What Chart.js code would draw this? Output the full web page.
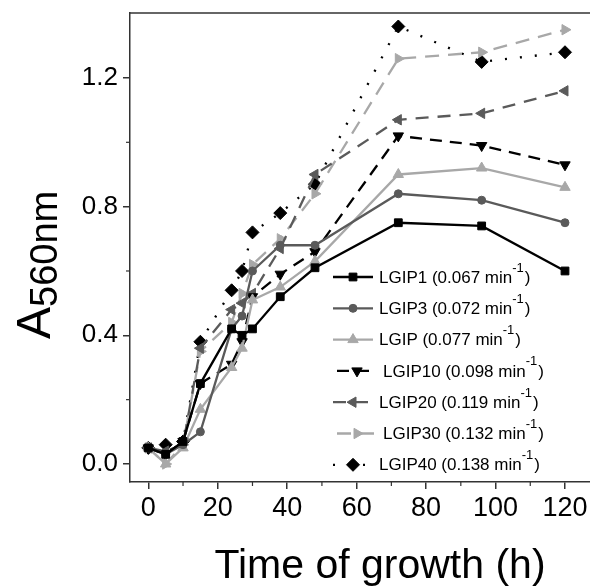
<!DOCTYPE html>
<html>
<head>
<meta charset="utf-8">
<script src="https://cdn.jsdelivr.net/npm/chart.js@4/dist/chart.umd.min.js"></script>
<style>
  html, body { margin: 0; padding: 0; background: #fff; overflow: hidden; }
  #wrap { width: 590px; height: 587px; position: relative; }
  #wrap canvas { display: block; }
</style>
</head>
<body>
<div id="wrap"><canvas id="growthChart"></canvas></div>
<script>
const hours = [0, 5, 10, 15, 24, 27, 30, 38, 48, 72, 96, 120];

const lgip1  = [0.05, 0.03, 0.07, 0.25, 0.42, 0.40, 0.42, 0.52, 0.61, 0.75, 0.74, 0.60];
const lgip3  = [0.05, 0.03, 0.06, 0.10, 0.42, 0.46, 0.60, 0.68, 0.68, 0.84, 0.82, 0.75];
const lgip   = [0.05, 0.00, 0.05, 0.17, 0.30, 0.36, 0.51, 0.55, 0.63, 0.90, 0.92, 0.86];
const lgip10 = [0.05, 0.03, 0.07, 0.25, 0.31, 0.38, 0.52, 0.59, 0.66, 1.02, 0.99, 0.93];
const lgip20 = [0.05, 0.04, 0.06, 0.36, 0.48, 0.50, 0.53, 0.67, 0.90, 1.07, 1.09, 1.16];
const lgip30 = [0.05, 0.00, 0.06, 0.35, 0.44, 0.53, 0.62, 0.70, 0.84, 1.26, 1.28, 1.35];
const lgip40 = [0.05, 0.06, 0.07, 0.38, 0.54, 0.60, 0.72, 0.78, 0.87, 1.36, 1.25, 1.28];

const seriesNames = ["LGIP1", "LGIP3", "LGIP", "LGIP10", "LGIP20", "LGIP30", "LGIP40"];
const rates = ["0.067", "0.072", "0.077", "0.098", "0.119", "0.132", "0.138"];

const xTicks = [0, 20, 40, 60, 80, 100, 120];
const xMinor = [10, 30, 50, 70, 90, 110];
const yTicks = [0.0, 0.4, 0.8, 1.2];
const yMinor = [0.2, 0.6, 1.0];

const FONT = '"Liberation Sans", Arial, sans-serif';
const BLACK = "#000000";
const DARK = "#5a5a5a";
const LIGHT = "#a8a8a8";

function pts(values) {
    return hours.map((h, i) => ({ x: h, y: values[i] }));
}

function series(i, values, color, dash, style, rotation, radius) {
    return {
        label: seriesNames[i],
        data: pts(values),
        borderColor: color,
        backgroundColor: color,
        borderWidth: 2.3,
        borderDash: dash,
        pointStyle: style,
        rotation: rotation,
        pointRadius: radius,
        pointBorderWidth: 1,
        tension: 0,
    };
}

const datasets = [
    series(0, lgip1, BLACK, [], "rect", 0, 5.5),
    series(1, lgip3, DARK, [], "circle", 0, 4),
    series(2, lgip, LIGHT, [], "triangle", 0, 6),
    series(3, lgip10, BLACK, [12, 8], "triangle", 180, 6),
    series(4, lgip20, DARK, [13, 9], "triangle", -90, 6),
    series(5, lgip30, LIGHT, [14, 9], "triangle", 90, 6),
    series(6, lgip40, BLACK, [2, 13], "rectRot", 0, 6.5),
];

// drop the label overflow padding so the plot box keeps its place
function noPad(s) {
    s.paddingTop = 0;
    s.paddingBottom = 0;
    s.paddingLeft = 0;
    s.paddingRight = 0;
}

// frame top line, minor ticks, axis titles and legend
const extras = {
    id: "extras",
    afterDraw(chart) {
        const { ctx, chartArea: a, scales } = chart;
        ctx.save();
        ctx.strokeStyle = "#333";
        ctx.lineWidth = 1.5;
        ctx.beginPath();
        ctx.moveTo(a.left, a.top);
        ctx.lineTo(a.right, a.top);
        ctx.stroke();

        ctx.lineWidth = 1.2;
        xMinor.forEach(v => {
            const px = scales.x.getPixelForValue(v);
            ctx.beginPath();
            ctx.moveTo(px, a.bottom);
            ctx.lineTo(px, a.bottom + 4);
            ctx.stroke();
        });
        yMinor.forEach(v => {
            const py = scales.y.getPixelForValue(v);
            ctx.beginPath();
            ctx.moveTo(a.left - 4, py);
            ctx.lineTo(a.left, py);
            ctx.stroke();
        });

        // x title
        ctx.fillStyle = "#000";
        ctx.font = "41px " + FONT;
        ctx.textAlign = "center";
        ctx.textBaseline = "alphabetic";
        ctx.fillText("Time of growth (h)", 380, 578);

        // y title: A with subscript 560nm
        ctx.translate(50, 339);
        ctx.rotate(-Math.PI / 2);
        ctx.textAlign = "left";
        ctx.font = "48px " + FONT;
        ctx.fillText("A", 0, 0);
        const wA = ctx.measureText("A").width;
        ctx.font = "38px " + FONT;
        ctx.fillText("560nm", wA, 7);
        ctx.restore();

        // legend
        const shift = [0, 0, 0, 4, 0, 4, 0];
        ctx.save();
        chart.data.datasets.forEach((ds, i) => {
            const y = 277 + i * 31.3;
            const x0 = 333 + shift[i];
            ctx.strokeStyle = ds.borderColor;
            ctx.fillStyle = ds.borderColor;
            ctx.lineWidth = ds.borderWidth;
            ctx.setLineDash(ds.borderDash);
            ctx.beginPath();
            ctx.moveTo(x0, y);
            ctx.lineTo(x0 + 40, y);
            ctx.stroke();
            ctx.setLineDash([]);
            ctx.lineWidth = 1;
            Chart.helpers.drawPoint(ctx, {
                pointStyle: ds.pointStyle,
                rotation: ds.rotation,
                radius: ds.pointRadius,
                borderWidth: 1,
            }, x0 + 20, y);

            ctx.fillStyle = "#000";
            ctx.textBaseline = "middle";
            ctx.textAlign = "left";
            ctx.font = "17px " + FONT;
            const main = seriesNames[i] + " (" + rates[i] + " min";
            let x = x0 + 46;
            ctx.fillText(main, x, y + 1);
            x += ctx.measureText(main).width;
            ctx.font = "13px " + FONT;
            ctx.fillText("-1", x, y - 9);
            x += ctx.measureText("-1").width + 1;
            ctx.font = "17px " + FONT;
            ctx.fillText(")", x, y + 1);
        });
        ctx.restore();
    }
};

new Chart(document.getElementById("growthChart"), {
    type: "line",
    data: { datasets: datasets },
    options: {
        responsive: true,
        maintainAspectRatio: false,
        animation: false,
        layout: { autoPadding: false, padding: { top: 13, right: 0, left: 0, bottom: 0 } },
        plugins: {
            legend: { display: false },
            tooltip: { enabled: false },
        },
        scales: {
            x: {
                type: "linear",
                min: -5.27,
                max: 127.2,
                afterBuildTicks: s => { s.ticks = xTicks.map(v => ({ value: v })); },
                afterFit: s => { s.height = 105; noPad(s); },
                grid: { drawOnChartArea: false, tickLength: 7, color: "#333", lineWidth: 1.5 },
                border: { color: "#333", width: 1.5 },
                ticks: {
                    font: { family: FONT, size: 27 },
                    color: "#000",
                    padding: 3,
                    maxRotation: 0,
                    autoSkip: false,
                },
            },
            y: {
                type: "linear",
                min: -0.056,
                max: 1.402,
                afterBuildTicks: s => { s.ticks = yTicks.map(v => ({ value: v })); },
                afterFit: s => { s.width = 130; noPad(s); },
                grid: { drawOnChartArea: false, tickLength: 7, color: "#333", lineWidth: 1.5 },
                border: { color: "#333", width: 1.5 },
                ticks: {
                    font: { family: FONT, size: 26 },
                    color: "#000",
                    padding: 5,
                    callback: v => Number(v).toFixed(1),
                },
            },
        },
    },
    plugins: [extras],
});
</script>
</body>
</html>
